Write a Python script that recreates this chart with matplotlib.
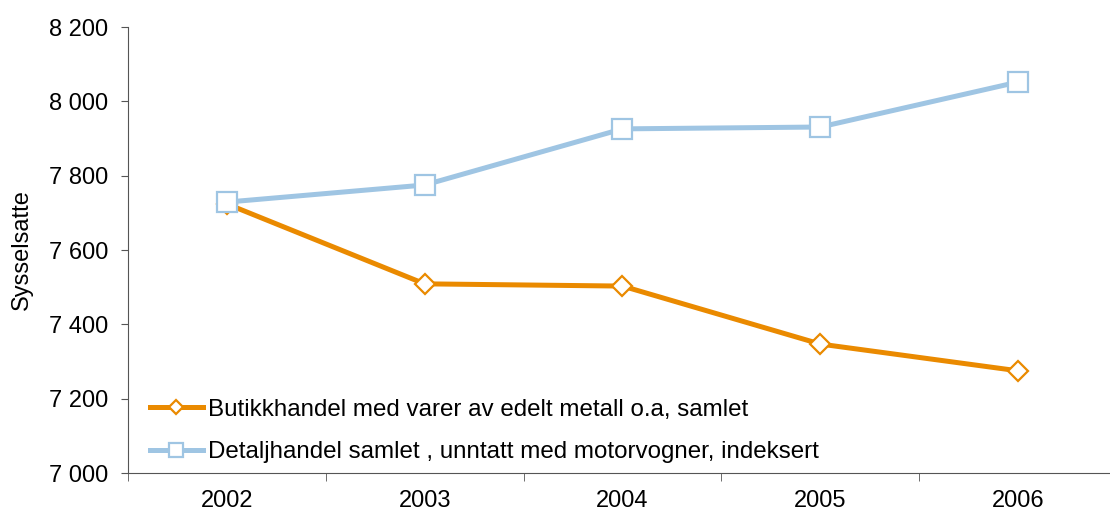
import matplotlib.pyplot as plt
from matplotlib.ticker import FuncFormatter, FixedLocator

years = ["2002", "2003", "2004", "2005", "2006"]
butikk = [7724, 7509, 7503, 7347, 7275]
detalj = [7729, 7775, 7926, 7931, 8052]

orange = "#EA8A00"
blue = "#9FC5E3"

plt.rcParams['font.family'] = ['Liberation Sans', 'DejaVu Sans']
fs = 17

fig = plt.figure(figsize=(11.1, 5.16), dpi=100)
ax = fig.add_axes([0.1153, 0.0833, 0.891, 0.8643])

x = range(len(years))
ax.plot(x, butikk, color=orange, lw=3.6, marker="D", ms=10.5, mfc="white",
        mec=orange, mew=1.6, label="Butikkhandel med varer av edelt metall o.a, samlet", zorder=3)
ax.plot(x, detalj, color=blue, lw=3.6, marker="s", ms=14, mfc="white",
        mec=blue, mew=1.6, label="Detaljhandel samlet , unntatt med motorvogner, indeksert", zorder=4)

ax.set_ylim(7000, 8200)
ax.set_yticks(range(7000, 8201, 200))
ax.yaxis.set_major_formatter(FuncFormatter(lambda v, p: f"{int(v):,}".replace(",", " ")))
ax.set_xlim(-0.5, 4.5)
ax.set_xticks(list(x))
ax.set_xticklabels(years)
ax.xaxis.set_minor_locator(FixedLocator([i - 0.5 for i in range(len(years) + 1)]))
ax.tick_params(axis="x", which="major", length=0, pad=12, labelsize=fs)
ax.tick_params(axis="x", which="minor", length=6, color="#555555")
ax.tick_params(axis="y", length=5, pad=9, labelsize=fs, color="#555555")

for s in ["top", "right"]:
    ax.spines[s].set_visible(False)
for s in ["left", "bottom"]:
    ax.spines[s].set_color("#555555")

ax.set_ylabel("Sysselsatte", fontsize=fs, labelpad=12)

ax.legend(loc="lower left", bbox_to_anchor=(0.012, 0.0), frameon=False, fontsize=17.4,
          handlelength=2.2, handletextpad=0.2, labelspacing=0.85, markerscale=0.7,
          borderaxespad=0.0)

fig.savefig("out.png", dpi=100)
